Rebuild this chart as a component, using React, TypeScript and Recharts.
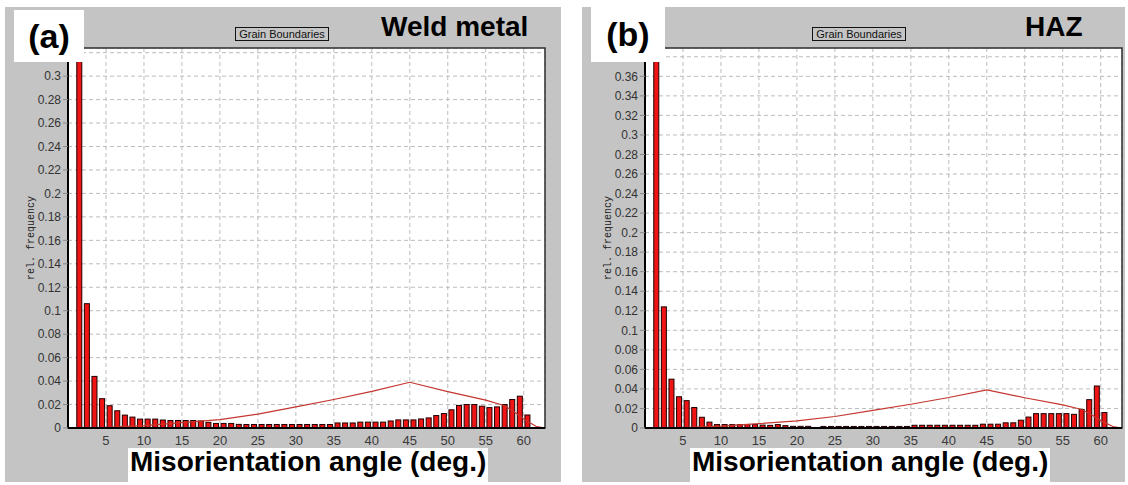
import React from "react";
import {
  ComposedChart,
  Bar,
  Line,
  XAxis,
  YAxis,
  CartesianGrid,
  ReferenceArea,
} from "recharts";

// bin centres (1 deg bins)
const ANGLES = Array.from({ length: 60 }, (_, i) => i + 1.5);

const WELD_FREQ = [
  0.322, 0.106, 0.044, 0.025, 0.019, 0.0147, 0.011, 0.0093, 0.0076, 0.0076,
  0.0076, 0.0068, 0.0064, 0.0064, 0.0064, 0.0064, 0.006, 0.0048, 0.0039, 0.0039,
  0.0039, 0.0031, 0.003, 0.003, 0.003, 0.003, 0.003, 0.003, 0.003, 0.003,
  0.003, 0.003, 0.003, 0.003, 0.0043, 0.0043, 0.0043, 0.005, 0.005, 0.005,
  0.005, 0.006, 0.0069, 0.0069, 0.0069, 0.0077, 0.0086, 0.0106, 0.0123, 0.0155,
  0.0192, 0.02, 0.02, 0.0186, 0.0174, 0.018, 0.02, 0.0243, 0.0271, 0.0111,
];

const HAZ_FREQ = [
  0.386, 0.124, 0.05, 0.032, 0.028, 0.021, 0.011, 0.006, 0.0035, 0.0035,
  0.0035, 0.0035, 0.0035, 0.0035, 0.003, 0.0027, 0.0035, 0.0024, 0.0017, 0.0017,
  0.0017, 0.0005, 0.0016, 0.0016, 0.0016, 0.0016, 0.0016, 0.0016, 0.0016, 0.0016,
  0.0016, 0.0016, 0.0016, 0.0016, 0.0028, 0.0028, 0.0028, 0.0028, 0.0028, 0.0028,
  0.0028, 0.0028, 0.0028, 0.0039, 0.0039, 0.0039, 0.0053, 0.0053, 0.008, 0.0112,
  0.0147, 0.0147, 0.0147, 0.0147, 0.0147, 0.014, 0.019, 0.029, 0.043, 0.0158,
];

// random (Mackenzie) distribution curve
const MACK_ANGLE = [0, 5, 10, 15, 20, 25, 30, 35, 40, 45, 50, 55, 57.5, 59, 60.2, 61.6, 62.8];
const MACK_FREQ = [0, 0.0005, 0.002, 0.0045, 0.0072, 0.0118, 0.018, 0.0243, 0.0312, 0.039, 0.031, 0.0237, 0.019, 0.0125, 0.0068, 0.0015, 0];

const X_TICKS = [5, 10, 15, 20, 25, 30, 35, 40, 45, 50, 55, 60];
const Y_TICKS_WELD = [0, 0.02, 0.04, 0.06, 0.08, 0.1, 0.12, 0.14, 0.16, 0.18, 0.2, 0.22, 0.24, 0.26, 0.28, 0.3, 0.32];
const Y_TICKS_HAZ = [0, 0.02, 0.04, 0.06, 0.08, 0.1, 0.12, 0.14, 0.16, 0.18, 0.2, 0.22, 0.24, 0.26, 0.28, 0.3, 0.32, 0.34, 0.36, 0.38];

const FONT = '"Liberation Sans", Arial, sans-serif';
const GRAY = "#c4c4c4";

const mackData = MACK_ANGLE.map((angle, i) => ({ angle, mack: MACK_FREQ[i] }));

// fixed-width bar, centred on the slot recharts gives us
const BinBar = (p: any) => {
  if (!p.height || p.height <= 0) return null;
  const cx = p.x + p.width / 2;
  return (
    <rect
      x={cx - 2.5}
      y={p.y}
      width={5}
      height={p.height}
      fill="#f01414"
      stroke="#1e0000"
      strokeWidth={1}
    />
  );
};

function Panel(props: {
  left: number;
  width: number;
  marginRight: number;
  freq: number[];
  yTicks: number[];
  yMax: number;
  hiddenAbove: number; // labels above this sit under the tag box
  tag: string;
  tagLeft: number;
  tagTop: number;
  tagWidth: number;
  name: string;
  nameLeft: number;
  legendLeft: number;
  titleLeft: number;
}) {
  const data = ANGLES.map((angle, i) => ({ angle, freq: props.freq[i] }));
  const top = 7;
  const height = 475;
  const fmt = (v: number) => (v > props.hiddenAbove ? "" : String(parseFloat(v.toFixed(2))));

  const yLabel = (p: any) => {
    const vb = p && p.viewBox ? p.viewBox : { x: 0, y: 41, width: 63, height: 380 };
    const x = vb.x + 26;
    const y = vb.y + vb.height / 2;
    return (
      <text
        x={x}
        y={y}
        transform={`rotate(-90, ${x}, ${y})`}
        textAnchor="middle"
        dominantBaseline="central"
        fontFamily='"Liberation Mono", "Courier New", monospace'
        fontSize={10}
        fill="#222"
      >
        rel. frequency
      </text>
    );
  };

  return (
    <>
      <div
        style={{
          position: "absolute",
          left: props.left,
          top,
          width: props.width,
          height,
          background: GRAY,
        }}
      />
      <div style={{ position: "absolute", left: props.left, top }}>
        <ComposedChart
          width={props.width}
          height={height}
          data={data}
          margin={{ top: 41, right: props.marginRight, bottom: 24, left: 0 }}
        >
          <CartesianGrid strokeDasharray="4 3" stroke="#bcbcbc" fill="#ffffff" />
          <ReferenceArea
            x1={0}
            x2={62.8}
            y1={0}
            y2={props.yMax}
            fill="none"
            fillOpacity={0}
            stroke="#2f2f2f"
            strokeWidth={1.5}
            ifOverflow="visible"
          />
          <Bar
            dataKey="freq"
            fill="#f01414"
            barSize={6}
            shape={BinBar}
            isAnimationActive={false}
          />
          <Line
            data={mackData}
            dataKey="mack"
            type="linear"
            stroke="#c4352e"
            strokeWidth={1.2}
            dot={false}
            activeDot={false}
            isAnimationActive={false}
          />
          <XAxis
            dataKey="angle"
            type="number"
            domain={[0, 62.8]}
            allowDataOverflow
            ticks={X_TICKS}
            interval={0}
            height={30}
            tickLine={false}
            tickSize={4}
            tickMargin={4}
            axisLine={{ stroke: "#000", strokeWidth: 2 }}
            tick={{ fontSize: 13, fill: "#3a3a3a", fontFamily: FONT }}
          />
          <YAxis
            type="number"
            domain={[0, props.yMax]}
            allowDataOverflow
            ticks={props.yTicks}
            interval={0}
            width={63}
            tickSize={5}
            tickMargin={2}
            tickFormatter={fmt}
            axisLine={{ stroke: "#000", strokeWidth: 2 }}
            tickLine={{ stroke: "#888" }}
            tick={{ fontSize: 12, fill: "#333", fontFamily: FONT }}
            label={yLabel}
          />
        </ComposedChart>
      </div>

      {/* panel tag */}
      <div
        style={{
          position: "absolute",
          left: props.tagLeft,
          top: props.tagTop,
          width: props.tagWidth,
          height: 62 - props.tagTop,
          background: "#fff",
          fontFamily: FONT,
          fontWeight: "bold",
          fontSize: 34,
          lineHeight: `${62 - props.tagTop}px`,
          textAlign: "center",
          color: "#000",
        }}
      >
        {props.tag}
      </div>

      {/* legend box */}
      <div
        style={{
          position: "absolute",
          left: props.legendLeft,
          top: 27,
          width: 94,
          height: 14,
          border: "1px solid #111",
          boxSizing: "border-box",
          fontFamily: FONT,
          fontSize: 11,
          lineHeight: "12px",
          textAlign: "center",
          color: "#111",
        }}
      >
        Grain Boundaries
      </div>

      {/* sample name */}
      <div
        style={{
          position: "absolute",
          left: props.nameLeft,
          top: 13,
          fontFamily: FONT,
          fontWeight: "bold",
          fontSize: 28,
          lineHeight: "28px",
          color: "#000",
          whiteSpace: "nowrap",
        }}
      >
        {props.name}
      </div>

      {/* axis title */}
      <div
        style={{
          position: "absolute",
          left: props.titleLeft,
          top: 448,
          height: 34,
          padding: "0 2px",
          background: "#fff",
          fontFamily: FONT,
          fontWeight: "bold",
          fontSize: 28,
          lineHeight: "28px",
          color: "#000",
          whiteSpace: "nowrap",
        }}
      >
        Misorientation angle (deg.)
      </div>
    </>
  );
}

export default function App() {
  return (
    <div
      style={{
        position: "absolute",
        left: 0,
        top: 0,
        width: 1128,
        height: 485,
        background: "#fff",
        overflow: "hidden",
      }}
    >
      <Panel
        left={5}
        width={556}
        marginRight={16}
        freq={WELD_FREQ}
        yTicks={Y_TICKS_WELD}
        yMax={0.324}
        hiddenAbove={0.31}
        tag="(a)"
        tagLeft={14}
        tagTop={10}
        tagWidth={70}
        name="Weld metal"
        nameLeft={381}
        legendLeft={235}
        titleLeft={128}
      />
      <Panel
        left={582}
        width={543}
        marginRight={3}
        freq={HAZ_FREQ}
        yTicks={Y_TICKS_HAZ}
        yMax={0.389}
        hiddenAbove={0.37}
        tag="(b)"
        tagLeft={591}
        tagTop={7}
        tagWidth={74}
        name="HAZ"
        nameLeft={1025}
        legendLeft={812}
        titleLeft={690}
      />
    </div>
  );
}
